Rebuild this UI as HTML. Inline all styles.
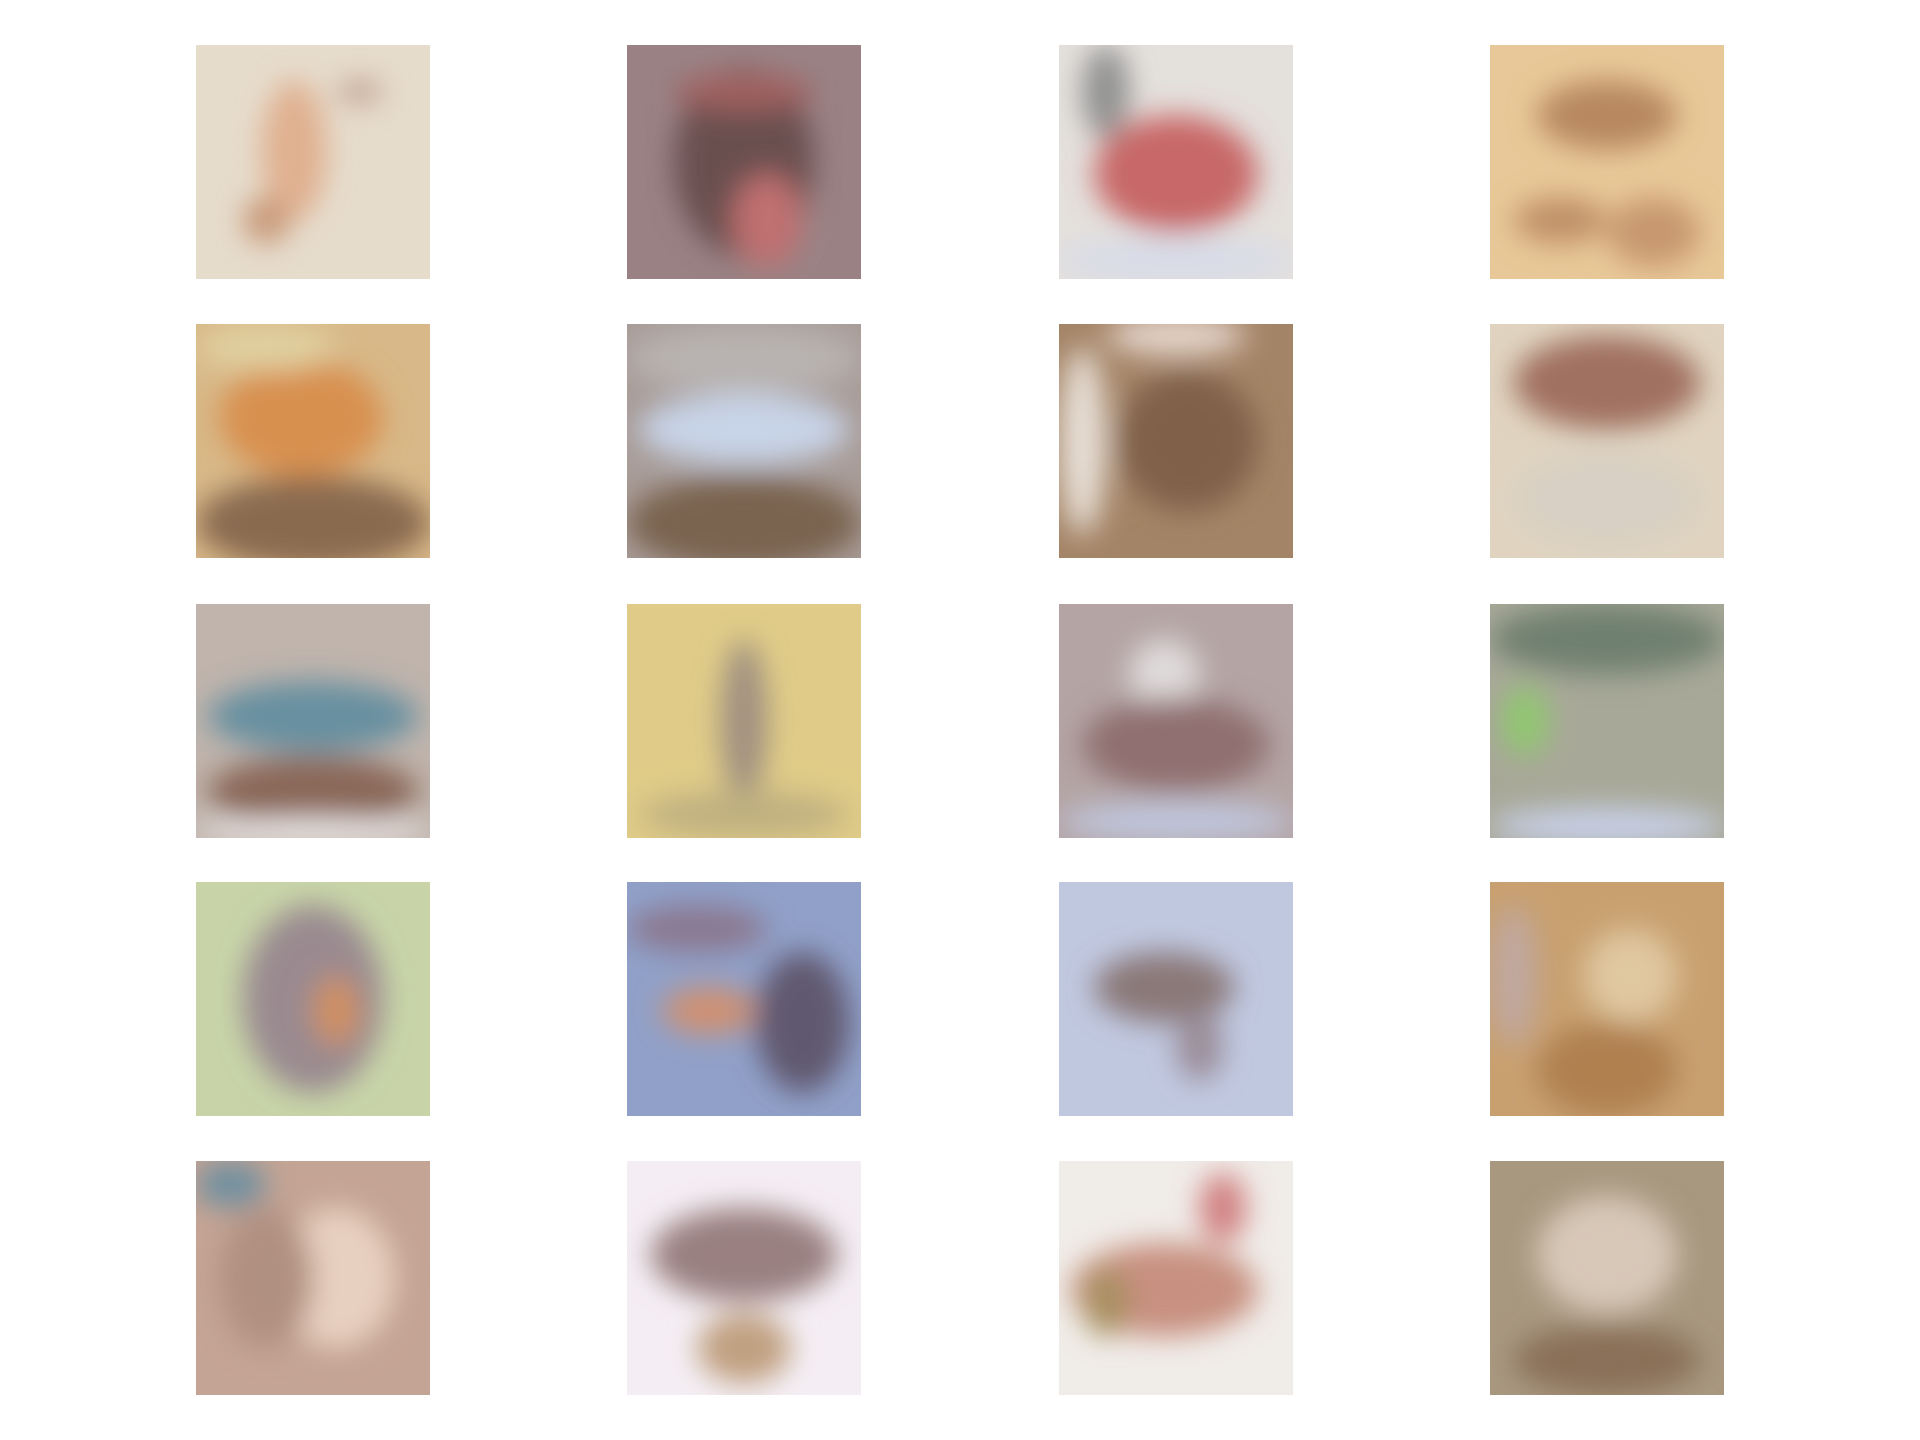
<!DOCTYPE html>
<html>
<head>
<meta charset="utf-8">
<style>
  html,body{margin:0;padding:0;background:#ffffff;}
  body{width:1920px;height:1440px;overflow:hidden;font-family:"Liberation Sans",sans-serif;}
  svg{display:block;}
</style>
</head>
<body>
<svg id="grid" width="1920" height="1440" viewBox="0 0 1920 1440" xmlns="http://www.w3.org/2000/svg">
  <defs>
    <filter id="blur" x="-20%" y="-20%" width="140%" height="140%"><feGaussianBlur stdDeviation="14"/></filter>
  </defs>
</svg>
<script>
const colX = [196, 627, 1059, 1490];
const rowY = [45, 324, 604, 882, 1161];
const tileSize = 234;
// base colours per tile (row-major)
const baseColors = [
  "#e6dccc","#9a8284","#e4e0dc","#e8c898",
  "#d8b888","#a89c98","#a48466","#e0d4c0",
  "#c0b4ac","#e0cc88","#b4a4a4","#a8a898",
  "#c8d4a8","#90a0c8","#c0c8e0","#c8a070",
  "#c4a494","#f4eef4","#f0ece8","#a89880"
];
// blobs per tile: [cx, cy, rx, ry, colour] in tile-fraction units
const blobs = [
  [[0.42,0.45,0.14,0.3,"#e0b090"],[0.3,0.75,0.1,0.1,"#c89878"],[0.7,0.2,0.1,0.05,"#c0a090"]],
  [[0.5,0.5,0.3,0.4,"#6a5050"],[0.6,0.75,0.15,0.2,"#c07070"],[0.5,0.2,0.3,0.08,"#a06060"]],
  [[0.5,0.55,0.35,0.25,"#c86868"],[0.5,0.92,0.5,0.1,"#d8dce8"],[0.2,0.2,0.1,0.2,"#909090"]],
  [[0.5,0.3,0.3,0.15,"#b88860"],[0.3,0.75,0.2,0.1,"#c09068"],[0.7,0.8,0.2,0.15,"#c89870"]],
  [[0.45,0.4,0.35,0.25,"#d89050"],[0.5,0.85,0.5,0.2,"#8a6a50"],[0.3,0.1,0.3,0.1,"#e0d0a0"]],
  [[0.5,0.15,0.5,0.15,"#b8b2b0"],[0.5,0.45,0.45,0.15,"#c8d4e8"],[0.5,0.85,0.5,0.2,"#7a6450"]],
  [[0.1,0.5,0.1,0.4,"#e8e0d8"],[0.55,0.5,0.3,0.3,"#806048"],[0.5,0.05,0.3,0.08,"#e8d8d0"]],
  [[0.5,0.25,0.4,0.2,"#a07060"],[0.5,0.75,0.4,0.2,"#d8d0c4"]],
  [[0.5,0.48,0.45,0.15,"#6890a0"],[0.5,0.8,0.45,0.15,"#8a6858"],[0.5,0.97,0.5,0.05,"#f0ecec"]],
  [[0.5,0.5,0.1,0.35,"#a09080"],[0.5,0.9,0.45,0.1,"#c0b080"]],
  [[0.45,0.3,0.15,0.15,"#e0dcdc"],[0.5,0.6,0.4,0.2,"#907070"],[0.5,0.93,0.5,0.08,"#c0c8e0"]],
  [[0.5,0.15,0.5,0.15,"#708070"],[0.15,0.5,0.1,0.15,"#90c870"],[0.5,0.95,0.5,0.08,"#c8d0e8"]],
  [[0.5,0.5,0.3,0.4,"#9a8a90"],[0.6,0.55,0.1,0.15,"#d09060"]],
  [[0.75,0.6,0.2,0.3,"#605870"],[0.35,0.55,0.2,0.1,"#d09070"],[0.3,0.2,0.3,0.1,"#8a7890"]],
  [[0.45,0.45,0.3,0.15,"#8a7878"],[0.6,0.7,0.1,0.15,"#9a8c98"]],
  [[0.6,0.4,0.2,0.2,"#e0c8a0"],[0.5,0.8,0.3,0.2,"#b08050"],[0.1,0.4,0.1,0.3,"#c0a8a0"]],
  [[0.15,0.1,0.15,0.1,"#7090a0"],[0.6,0.5,0.25,0.3,"#e8d0c0"],[0.3,0.5,0.2,0.3,"#b09080"]],
  [[0.5,0.4,0.4,0.2,"#9a8080"],[0.5,0.8,0.2,0.15,"#c0a080"]],
  [[0.45,0.55,0.4,0.2,"#c89080"],[0.2,0.6,0.1,0.15,"#a89060"],[0.7,0.2,0.1,0.15,"#d08080"]],
  [[0.5,0.4,0.3,0.25,"#d8c8b8"],[0.5,0.85,0.4,0.15,"#8a7058"]]
];
const NS = "http://www.w3.org/2000/svg";
const svg = document.getElementById("grid");
for (let r = 0; r < rowY.length; r++) {
  for (let c = 0; c < colX.length; c++) {
    const i = r * colX.length + c;
    const x = colX[c], y = rowY[r];
    const clipId = "clip" + i;
    const cp = document.createElementNS(NS, "clipPath");
    cp.setAttribute("id", clipId);
    const cr = document.createElementNS(NS, "rect");
    cr.setAttribute("x", x); cr.setAttribute("y", y);
    cr.setAttribute("width", tileSize); cr.setAttribute("height", tileSize);
    cp.appendChild(cr);
    svg.querySelector("defs").appendChild(cp);
    const g = document.createElementNS(NS, "g");
    g.setAttribute("clip-path", "url(#" + clipId + ")");
    
    
    const bg = document.createElementNS(NS, "rect");
    bg.setAttribute("x", x); bg.setAttribute("y", y);
    bg.setAttribute("width", tileSize); bg.setAttribute("height", tileSize);
    bg.setAttribute("fill", baseColors[i]);
    g.appendChild(bg);
    const bl = document.createElementNS(NS, "g");
    bl.setAttribute("filter", "url(#blur)");
    blobs[i].forEach(b => {
      const e = document.createElementNS(NS, "ellipse");
      e.setAttribute("cx", x + b[0] * tileSize);
      e.setAttribute("cy", y + b[1] * tileSize);
      e.setAttribute("rx", b[2] * tileSize);
      e.setAttribute("ry", b[3] * tileSize);
      e.setAttribute("fill", b[4]);
      bl.appendChild(e);
    });
    g.appendChild(bl);
    svg.appendChild(g);
  }
}
</script>
</body>
</html>
